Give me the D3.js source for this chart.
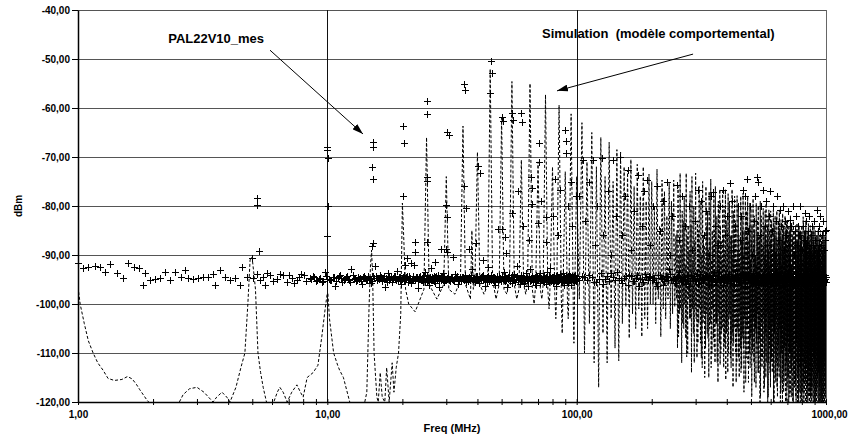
<!DOCTYPE html>
<html>
    <head>
        <style>
            body{
                margin: 0;
                background-color: white;
            }
            text{
                font-family: "Liberation Sans", Arial, sans-serif;
                font-weight: bold;
            }
        </style>
        <script src="https://d3js.org/d3.v7.min.js"></script>
    </head>
    <body>
        <script>
            // axis ticks
            const yTicks = [-40, -50, -60, -70, -80, -90, -100, -110, -120];
            const xTicks = [1,2,3,4,5,6,7,8,9,10,20,30,40,50,60,70,80,90,100,200,300,400,500,600,700,800,900,1000];
            const xLabelTicks = [1, 10, 100, 1000];
            const xGrid = [10, 100, 1000];

            // PAL22V10_mes : measured points [MHz, dBm]
            const measFloor = [[1.0,-91.7],[1.05,-92.6],[1.10,-92.4],[1.17,-92.2],[1.22,-92.4],[1.28,-93.4],[1.34,-91.9],[1.43,-93.6],[1.52,-94.6],[1.59,-91.7],[1.67,-92.4],[1.75,-92.6],[1.83,-96.1],[1.86,-93.6],[1.94,-95.1],[2.03,-94.8],[2.13,-94.6],[2.23,-93.4],[2.34,-95.1],[2.45,-93.4],[2.60,-94.4],[2.69,-93.1],[2.77,-94.6],[2.90,-94.8],[3.04,-94.6],[3.18,-94.4],[3.33,-94.4],[3.49,-93.9],[3.54,-96.1],[3.71,-93.1],[3.89,-94.4],[4.07,-95.0],[4.26,-94.6],[4.46,-96.1],[4.53,-92.4],[4.75,-94.4],[5.05,-94.6],[5.2,-93.8],[5.37,-95.1],[5.5,-94.4],[5.63,-96.1],[5.75,-93.6],[5.90,-94.1],[6.05,-95.3],[6.27,-94.8],[6.45,-93.9],[6.66,-94.1],[6.87,-95.5],[7.0,-94.0],[7.19,-94.6],[7.35,-95.7],[7.55,-95.1],[7.7,-94.5],[7.85,-93.9],[8.03,-94.1],[8.2,-95.4]];
            const measPeaks = [[5.0,-90.7],[5.21,-79.8],[5.21,-78.4],[5.32,-89.2],[10.0,-67.9],[10.0,-68.6],[10.05,-70.2],[10.1,-79.9],[9.98,-86.1],[15.2,-66.9],[15.2,-68.0],[15.1,-72.0],[15.25,-74.5],[15.2,-87.6],[15.1,-88.2],[20.2,-63.6],[20.3,-67.1],[20.2,-78.0],[22.5,-87.3],[22.5,-89.3],[25.2,-58.5],[25.2,-61.2],[25.1,-74.0],[25.1,-74.8],[25.1,-87.3],[30.2,-64.8],[30.8,-65.5],[30.0,-79.8],[30.2,-82.2],[29.8,-88.8],[30.2,-89.3],[35.4,-55.1],[35.8,-56.3],[35.2,-76.0],[35.9,-80.5],[39.3,-87.5],[40.2,-71.8],[40.8,-73.2],[45.3,-50.5],[45.8,-52.9],[44.9,-56.9],[50.4,-61.8],[50.6,-62.6],[50.0,-84.6],[51.5,-86.3],[55.2,-61.0],[55.6,-62.4],[60.0,-61.0],[60.2,-62.8],[65.5,-74.0],[65.9,-76.4],[70.8,-67.1],[70.8,-71.0],[75.0,-82.2],[81.8,-74.5],[85.6,-76.7],[89.8,-64.5],[90.3,-66.7],[90.3,-69.2],[95.0,-75.0]];
            const measScatter = [[20.5,-92.0],[20.8,-90.7],[21.6,-91.7],[27.0,-91.5],[28.5,-88.8],[32.0,-90.5],[37.0,-88.8],[42.0,-91.0],[48.5,-84.6],[52.0,-89.6],[55.0,-81.4],[58.0,-77.0],[61.0,-84.0],[64.5,-87.0],[66.0,-79.5],[70.0,-83.5],[72.0,-79.0],[75.5,-87.3],[80.0,-82.0],[84.0,-86.0],[92.0,-80.0],[96.0,-84.0],[99.0,-78.0]];
            const measCloud = [[106,-70.6],[116,-70.6],[126,-70.3],[140,-70.6],[149,-70],[161,-72.7],[177,-73.7],[191,-74.7],[210,-76],[230,-75],[252,-75.7],[307,-76.7],[352,-77.1],[386,-76.7],[411,-75.4],[465,-76.7],[480,-74.4],[527,-74],[535,-75],[561,-76.7],[656,-80.8],[718,-82.9],[825,-81.5],[917,-80.8],[1000,-84.9],
                [102,-78],[108,-83],[112,-75],[118,-88],[121,-80],[128,-86],[133,-77],[137,-90],[144,-82],[152,-86],[156,-78],[165,-89],[170,-81],[182,-84],[186,-77],[196,-88],[203,-80],[215,-85],[221,-79],[236,-90],[242,-82],[258,-87],[265,-78],[272,-84],[281,-80],[290,-89],[298,-83],[315,-79],[323,-86],[331,-81],[340,-90],[346,-78],[360,-84],[368,-88],[375,-80],[395,-86],[402,-82],[418,-79],[425,-89],[433,-84],[442,-80],[450,-87],[458,-82],[472,-78],[488,-85],[495,-80],[505,-90],[512,-83],[520,-78],[543,-86],[550,-80],[568,-84],[575,-79],[582,-88],[590,-82],[598,-77],[606,-85],[615,-80],[622,-90],[630,-83],[638,-78],[645,-87],[663,-84],[670,-80],[678,-89],[686,-83],[694,-86],[702,-81],[710,-88],[726,-84],[734,-80],[742,-90],[750,-85],[758,-82],[766,-88],[774,-84],[782,-86],[790,-80],[798,-89],[806,-84],[814,-87],[833,-83],[841,-88],[850,-85],[858,-82],[866,-90],[874,-86],[882,-84],[890,-88],[898,-83],[906,-87],[925,-85],[933,-89],[941,-84],[949,-82],[957,-88],[965,-86],[973,-83],[981,-89],[989,-85],[995,-87]];

            // noise floor sweeps (start MHz, step MHz, dBm per step)
            const sweepAStart = 8.5, sweepAStep = 0.25;
            const sweepADbm = [-94.6,-94.2,-95.3,-94.8,-95.6,-93.4,-94.9,-95.1,-94.4,-96.3,
                -94.7,-94.1,-95.5,-94.9,-94.3,-95.2,-92.8,-94.8,-95.4,-94.5,
                -94.6,-96.0,-94.2,-95.0,-94.4,-94.8,-95.7,-94.3,-92.2,-95.2,
                -94.6,-94.0,-95.3,-94.7,-96.6,-94.9,-93.6,-95.0,-94.5,-95.6,
                -94.3,-94.7,-93.2,-95.3,-94.5,-95.9,-94.8,-94.1,-95.1,-94.4,
                -95.5,-94.2,-94.6,-95.8,-94.9,-92.0,-95.2,-94.5,-96.8,-94.9,
                -94.3,-95.0,-94.6,-95.6,-94.2,-93.5,-95.4,-94.8,-96.2,-94.5,
                -92.7,-95.1,-94.6,-94.2,-95.7,-94.4,-95.2,-94.1,-96.5,-94.7,
                -95.0,-94.4,-93.7,-95.5,-94.6,-95.1,-94.8];
            const sweepEStart = 8.625, sweepEStep = 0.25;
            const sweepEDbm = [-94.9,-94.4,-95.1,-94.6,-95.4,-94.2,-94.8,-95.0,-94.5,-95.3,
                -94.3,-94.7,-95.2,-94.5,-94.9,-95.5,-94.1,-94.6,-95.0,-94.8,
                -95.3,-94.4,-94.7,-95.1,-94.2,-94.9,-95.4,-94.6,-94.3,-95.0,
                -94.8,-94.5,-95.2,-94.3,-94.7,-95.6,-94.4,-94.9,-95.1,-94.6,
                -94.2,-95.0,-94.8,-94.5,-95.3,-94.7,-94.4,-95.2,-94.9,-94.3,
                -95.0,-94.6,-95.4,-94.8,-94.2,-95.1,-94.7,-94.5,-95.3,-94.4,
                -94.9,-95.0,-94.3,-94.8,-95.5,-94.6,-94.1,-95.2,-94.7,-94.9,
                -95.1,-94.4,-94.8,-95.3,-94.5,-94.2,-95.0,-94.7,-95.4,-94.6,
                -94.3,-94.9,-95.2,-94.5,-94.8,-95.0];
            const sweepBStart = 30, sweepBStep = 0.5;
            const sweepBDbm = [-94.8,-94.3,-95.4,-94.6,-95.0,-93.8,-94.7,-95.9,-94.5,-95.3,
                -94.5,-94.0,-95.6,-94.9,-94.4,-95.2,-92.9,-94.6,-95.5,-94.3,
                -94.2,-95.8,-94.6,-95.1,-94.1,-94.8,-96.3,-94.5,-92.5,-95.4,
                -94.7,-94.0,-95.0,-94.5,-96.1,-94.9,-94.2,-95.6,-94.6,-95.2,
                -94.3,-94.8,-93.4,-95.3,-94.6,-96.5,-94.4,-94.1,-95.0,-94.7,
                -95.7,-94.5,-93.9,-95.5,-94.9,-92.2,-95.1,-94.6,-96.0,-94.7,
                -94.1,-95.3,-94.5,-95.8,-94.8,-93.6,-95.0,-94.6,-96.4,-94.4,
                -92.8,-95.2,-94.7,-94.3,-95.6,-94.6,-95.4,-94.0,-96.2,-94.9,
                -95.1,-94.3,-93.7,-95.7,-94.6,-95.0,-94.5,-94.2,-95.5,-94.8,
                -96.0,-94.4,-93.5,-95.3,-94.9,-95.6,-94.4,-92.6,-95.0,-94.6,
                -95.8,-94.5,-94.0,-95.2,-94.7,-96.3,-94.3,-94.1,-95.4,-94.6,
                -95.1,-94.5,-93.8,-95.6,-94.9,-95.3,-94.4,-93.6,-96.1,-94.8,
                -95.0,-94.6,-94.1,-95.5,-94.3,-95.7,-94.7,-93.9,-95.2,-94.5,
                -96.2,-94.6,-94.2,-95.0,-94.5,-95.6,-94.3,-94.0,-95.3,-94.9,
                -94.6];
            const sweepFStart = 30.25, sweepFStep = 0.5;
            const sweepFDbm = [-94.7,-95.1,-94.4,-94.9,-95.3,-94.6,-94.2,-95.0,-94.8,-94.5,
                -95.2,-94.3,-94.7,-95.4,-94.9,-94.1,-95.0,-94.6,-95.3,-94.4,
                -94.8,-95.1,-94.5,-94.2,-95.2,-94.7,-94.9,-95.5,-94.3,-94.6,
                -95.0,-94.8,-94.4,-95.3,-94.6,-94.9,-95.1,-94.2,-94.7,-95.4,
                -94.5,-94.8,-95.0,-94.3,-95.2,-94.6,-94.9,-94.4,-95.3,-94.7,
                -94.1,-95.0,-94.8,-95.5,-94.5,-94.3,-95.1,-94.7,-94.9,-95.2,
                -94.6,-94.4,-95.0,-94.8,-95.3,-94.2,-94.7,-95.1,-94.5,-94.9,
                -95.4,-94.6,-94.3,-95.0,-94.8,-94.5,-95.2,-94.7,-94.4,-95.1,
                -94.9,-94.2,-95.3,-94.6,-94.8,-95.0,-94.5,-94.3,-95.2,-94.7,
                -95.5,-94.4,-94.9,-95.1,-94.6,-94.2,-95.0,-94.8,-95.3,-94.5,
                -94.7,-95.2,-94.4,-94.9,-95.0,-94.3,-94.8,-95.4,-94.6,-94.5,
                -95.1,-94.7,-94.2,-95.3,-94.9,-94.6,-95.0,-94.4,-94.8,-95.2,
                -94.5,-94.3,-95.1,-94.7,-95.4,-94.6,-94.9,-94.2,-95.0,-94.8,
                -95.3,-94.4,-94.7,-95.1,-94.5,-94.9,-95.2,-94.3,-94.6,-95.0];
            const sweepCStart = 100, sweepCStep = 5;
            const sweepCDbm = [-94.6,-94.2,-95.2,-94.5,-95.6,-93.7,-94.9,-95.3,-94.5,-93.4,-95.0,-94.7,-96.1,-94.3,-95.3,-94.0,-94.8,-95.5,-94.4,-94.2,
                -95.1,-94.6,-96.3,-94.0,-94.9,-95.4,-94.4,-92.9,-95.2,-94.6,-95.7,-94.2,-94.7,-95.0,-94.5,-96.0,-94.1,-95.3,-94.7,-94.3,
                -95.4,-93.8,-94.8,-95.8,-94.4,-95.1,-94.0,-94.6,-96.2,-94.6,-95.0,-93.5,-95.5,-94.9,-94.3,-95.6,-94.2,-94.7,-95.2,-94.5,
                -95.7,-94.3,-93.9,-95.3,-94.7,-96.0,-94.4,-95.1,-94.1,-94.9,-95.6,-94.6,-93.6,-95.2,-94.6,-96.3,-94.3,-95.0,-94.0,-94.8,
                -95.5,-94.5,-95.8,-94.2,-94.7,-95.2,-94.3,-96.1,-93.9,-95.4,-94.6,-95.0,-94.1,-94.9,-95.7,-94.4,-95.3,-93.8,-94.6,-96.0,
                -94.3,-95.6,-94.2,-94.8,-95.2,-94.6,-96.2,-94.0,-95.0,-94.6,-95.8,-94.3,-93.6,-95.4,-94.7,-95.1,-94.1,-96.0,-94.5,-95.5,
                -94.4,-93.9,-95.3,-94.9,-96.1,-94.3,-95.0,-94.2,-94.6,-95.7,-94.5,-95.2,-93.8,-94.8,-96.3,-94.2,-95.4,-94.1,-94.7,-95.1,
                -94.6,-95.9,-94.0,-94.4,-95.6,-94.8,-93.7,-95.3,-94.3,-96.0,-94.6,-95.0,-94.2,-94.5,-95.7,-94.9,-93.9,-95.2,-94.5,-95.8,
                -94.3,-95.4,-94.1,-94.7,-96.2,-94.5,-95.1,-93.8,-94.9,-95.6,-94.4,-95.0,-94.2,-94.6,-96.1,-94.5,-95.3,-94.0,-94.8,-95.5,
                -94.4];
            const sweepDStart = 102.5, sweepDStep = 5;
            const sweepDDbm = [-95.0,-94.5,-94.0,-95.6,-94.8,-96.0,-94.3,-93.6,-95.2,-94.6,
                -95.8,-94.2,-94.1,-95.3,-94.6,-96.4,-94.9,-93.9,-95.1,-94.4,
                -94.7,-95.5,-94.1,-94.6,-96.1,-94.3,-95.2,-93.8,-94.9,-95.7,
                -94.5,-93.4,-95.4,-94.8,-95.0,-94.3,-96.3,-94.0,-94.6,-95.3,
                -94.6,-95.9,-93.9,-94.7,-95.1,-94.4,-94.2,-96.0,-94.5,-95.4,
                -94.1,-94.9,-95.6,-94.3,-93.5,-95.2,-94.6,-96.2,-94.5,-95.0,
                -94.8,-93.8,-95.7,-94.3,-94.9,-96.1,-94.0,-95.3,-94.5,-95.0,
                -94.4,-95.8,-93.9,-94.7,-95.5,-94.2,-96.4,-94.1,-94.8,-95.1,
                -94.6,-93.7,-95.3,-94.9,-96.0,-94.4,-95.6,-94.1,-94.6,-95.2,
                -94.3,-95.9,-93.8,-94.6,-95.0,-94.7,-96.3,-93.9,-95.4,-94.5,
                -94.9,-95.7,-94.2,-94.3,-95.5,-94.6,-93.5,-95.1,-94.8,-96.1,
                -94.5,-95.2,-94.0,-94.6,-95.8,-94.3,-95.0,-93.7,-94.9,-96.2,
                -94.5,-95.6,-94.1,-94.7,-95.3,-94.2,-96.0,-93.9,-94.8,-95.4,
                -94.4,-95.1,-93.8,-94.6,-95.9,-94.9,-94.2,-95.2,-94.5,-96.3,
                -94.2,-95.5,-94.0,-94.7,-95.0,-94.4,-96.1,-93.7,-94.9,-95.6,
                -94.6,-95.3,-94.1,-94.3,-95.7,-94.8,-93.9,-95.0,-94.6,-96.0,
                -94.3,-95.4,-94.2,-94.7,-95.1,-94.5,-96.4,-93.8,-94.8,-95.8,
                -94.2,-95.2,-94.0,-94.6,-95.9,-94.4,-95.0,-94.1,-94.9,-95.5];

            // Simulation (modele comportemental) : dashed curve [MHz, dBm]
            const simLow = [[1.0,-96.5],[1.02,-100],[1.06,-104],[1.1,-107.5],[1.15,-110],[1.2,-112],[1.26,-113.5],[1.32,-115.2],[1.4,-115.6],[1.5,-115.4],[1.58,-114.8],[1.65,-115.3],[1.72,-116.5],[1.77,-117.5],[1.89,-119.6],[2.0,-121],[2.3,-123],[2.55,-120],[2.64,-118.5],[2.8,-117.3],[3.0,-117],[3.2,-118],[3.48,-120],[3.6,-119],[3.78,-118],[3.95,-119],[4.07,-120],[4.3,-117],[4.5,-113],[4.67,-110],[4.8,-100],[4.9,-91],[4.99,-90.4],[5.08,-94],[5.15,-97],[5.27,-110],[5.4,-114],[5.53,-117],[5.7,-120],[6.0,-121],[6.3,-118],[6.45,-117],[6.65,-118],[6.9,-120],[7.2,-118],[7.55,-116.5],[7.8,-118],[8.0,-119],[8.3,-115],[8.77,-114],[9.17,-112.5],[9.5,-106.7],[9.8,-101],[9.98,-98],[10.05,-97.8],[10.2,-103],[10.6,-110],[11.0,-112.5],[11.2,-113.5],[11.6,-115],[12.3,-120],[13.0,-123],[14.0,-121],[14.4,-118],[14.7,-100.6],[14.9,-92],[15.05,-89],[15.2,-95],[15.4,-110],[15.8,-119],[16.0,-120],[16.3,-114],[16.6,-119],[17.0,-120],[17.3,-113],[17.7,-120],[18.2,-112],[18.5,-118],[18.9,-112.9],[19.3,-110],[19.7,-102],[20.0,-79.4],[20.2,-85],[20.6,-97],[21.2,-100],[22.0,-101]];
            const simMid = [[22.5,-101.6],[24.4,-97],[25.0,-66],[25.6,-96],[27.5,-99],[29.3,-96],[30.0,-74],[30.7,-97],[32.5,-98],[34.2,-95],[35.0,-63.7],[35.8,-96],[37.5,-99],[38.0,-85],[38.5,-97],[39.1,-95],[40.0,-69],[40.9,-96],[42.5,-98],[44.0,-96],[45.0,-52],[46.0,-95],[47.5,-99],[48.9,-96],[50.0,-62],[51.1,-97],[52.5,-98],[53.8,-95],[55.0,-54.6],[56.2,-96],[57.5,-99],[58.7,-97],[60.0,-70.6],[61.3,-96],[62.5,-98],[63.6,-95],[65.0,-55],[66.4,-97],[67.5,-100],[68.5,-96],[70.0,-71],[71.5,-97],[72.5,-99],[73.4,-96],[75.0,-57.3],[76.6,-97],[77.5,-101],[78.3,-96],[80.0,-72],[81.7,-98],[82.5,-103],[83.2,-97],[85.0,-59.4],[86.8,-99],[87.5,-106],[88.1,-98],[90.0,-73],[91.9,-100],[92.5,-103],[93.0,-99],[95.0,-61.2],[97.0,-102],[97.5,-108],[98.0,-100]];
            // harmonics of 5 MHz from 100 MHz: peak at each harmonic, dip after it
            const harmStart = 100;
            const harmStep = 5;
            const simPeakDbm = [-74,-63,-71,-65,-72,-66,-74,-67,-75,-68.5,-69,-72,-72.7,-70.5,-76,-71.5,-78,-72,-79,-73.5,
                -75,-80,-72.5,-84,-74.7,-77,-82,-75.4,-79,-74.7,-86,-76,-73.3,-81,-78,-73.3,-84,-77,-74,-80,
                -73.3,-83,-76,-79,-75,-88,-76,-81,-77,-74.5,-85,-78,-76,-82,-79,-76.6,-87,-77,-80,-76.6,
                -83,-77.5,-79,-86,-76.6,-81,-78,-84,-77.9,-80,-89,-78,-82,-77.4,-85,-79,-81,-78,-87,-79.4,
                -80,-84,-78.5,-82,-90,-79.4,-83,-80,-86,-79,-82,-88,-80.5,-84,-81,-79.5,-87,-82,-80.8,-85,
                -81,-83,-89,-80.8,-84,-82,-86,-81,-91,-83,-80.8,-85,-82.8,-87,-81.5,-84,-90,-82,-86,-83,
                -82.8,-88,-84,-85,-82,-92,-84,-86,-83,-89,-85,-84,-87,-83.5,-90,-85,-84,-88,-85,-86,
                -84,-91,-82.2,-86,-85,-89,-83,-87,-85,-93,-83.6,-86,-88,-84,-90,-86,-85,-89,-87,-84,
                -88,-85,-92,-86,-87,-89,-85,-90,-86,-88,-85,-91,-87,-86,-89,-85,-88,-90,-86,-87,-85];
            const simDipDbm = [-99,-110,-104,-112,-117,-106,-112,-103,-109,-111.6,-104,-100.6,-107,-102,-105,-101,-106.7,-103,-105,-100,
                -100,-104,-99,-106.7,-101,-103,-99,-105,-102,-100.6,-99,-106.7,-101,-104,-100,-110.8,-99,-103,-101,-112,
                -103,-108,-101,-111,-104,-115,-102,-107,-105,-113,-101,-109,-104,-112,-102,-112.4,-106,-103,-108,-115.5,
                -104,-110,-102,-113,-106,-108,-103,-116,-105,-111,-102,-114,-107,-109,-103,-116,-105,-112,-101,-113,
                -106,-110,-103,-116,-105,-108,-102,-114,-107,-119,-104,-111,-103,-117,-106,-112,-102,-119,-105,-114,
                -107,-112,-104,-120,-106,-115,-103,-117,-108,-113,-105,-120,-107,-116,-104,-118,-109,-114,-105,-121,
                -108,-115,-106,-119,-110,-114,-107,-122,-109,-117,-111,-119,-108,-115,-112,-121,-109,-118,-113,-120,
                -110,-118,-108,-122,-112,-116,-109,-120,-111,-121,-113,-118,-110,-119,-112,-122,-109,-117,-111,-120,
                -112,-119,-110,-121,-113,-117,-111,-120,-114,-122,-112,-119,-110,-121,-113,-120,-111,-121,-112,-119];
            // second ripple between harmonics, from 250 MHz
            const ripple2Start = 250;
            const simPeak2Dbm = [-85,-90,-88,-83,-92,-86,-89,-84,-91,-87,-93,-85,-88,-90,-86,-92,-84,-89,-87,-91,
                -88,-85,-93,-87,-90,-84,-91,-86,-89,-92,-85,-88,-94,-86,-90,-87,-83,-91,-89,-86,
                -92,-87,-85,-90,-88,-93,-86,-89,-84,-91,-87,-94,-88,-85,-90,-92,-86,-89,-87,-91,
                -85,-93,-88,-90,-86,-91,-84,-89,-92,-87,-90,-85,-94,-88,-86,-91,-89,-87,-93,-85,
                -90,-88,-92,-86,-89,-94,-87,-85,-91,-88,-93,-86,-90,-89,-84,-92,-87,-91,-88,-95,
                -86,-90,-93,-87,-89,-85,-92,-88,-91,-86,-94,-89,-87,-90,-92,-85,-88,-93,-86,-91,
                -89,-87,-94,-88,-86,-92,-90,-85,-93,-88,-91,-87,-89,-95,-86,-90,-88,-92,-87,-91,
                -88,-93,-86,-90,-89,-92,-87,-91,-94,-88];
            const simDip2Dbm = [-109,-102,-112,-105,-107,-110,-103,-114,-106,-101,-111,-104,-108,-113,-102,-109,-106,-115,-104,-110,
                -107,-112,-104,-116,-108,-110,-105,-113,-109,-106,-114,-103,-111,-108,-117,-105,-110,-112,-106,-115,
                -109,-113,-106,-118,-108,-111,-105,-116,-110,-107,-119,-109,-112,-106,-117,-110,-114,-108,-120,-111,
                -113,-108,-118,-110,-115,-107,-120,-112,-109,-117,-111,-114,-108,-121,-110,-116,-112,-119,-109,-115,
                -111,-118,-110,-121,-113,-116,-109,-120,-112,-117,-115,-122,-110,-118,-113,-119,-111,-121,-114,-117,
                -116,-120,-112,-122,-114,-118,-113,-121,-115,-119,-112,-122,-116,-118,-114,-121,-113,-120,-117,-119,
                -115,-121,-113,-122,-117,-119,-114,-121,-116,-120,-113,-122,-118,-119,-115,-121,-114,-120,-117,-122,
                -116,-121,-114,-120,-118,-122,-115,-119,-117,-121];

            const notes = [
                {text: "PAL22V10_mes", f: 2.3, v: -46.7, from: [5.89, -48.2], to: [13.9, -65.3]},
                {text: "Simulation\u00a0 (modèle comportemental)", f: 72.6, v: -45.8, from: [293, -49], to: [83.4, -56.5]}
            ];

            const w = 849;
            const h = 434;
            const plotLeft = 78, plotRight = 826, plotTop = 10, plotBottom = 402;

            const x = d3.scaleLog().domain([1, 1000]).range([plotLeft, plotRight]);
            const y = d3.scaleLinear().domain([-120, -40]).range([plotBottom, plotTop]);
            const comma = d => d.toFixed(2).replace(".", ",");
            const sweep = (start, step, values) => values.map((v, i) => [start + i * step, v]);

            const meas = measFloor.concat(
                sweep(sweepAStart, sweepAStep, sweepADbm),
                sweep(sweepEStart, sweepEStep, sweepEDbm),
                sweep(sweepBStart, sweepBStep, sweepBDbm),
                sweep(sweepFStart, sweepFStep, sweepFDbm),
                sweep(sweepCStart, sweepCStep, sweepCDbm),
                sweep(sweepDStart, sweepDStep, sweepDDbm),
                measScatter, measPeaks, measCloud);

            const sim = simLow.concat(simMid);
            const ripple2Offset = (ripple2Start - harmStart) / harmStep;
            simPeakDbm.forEach((v, i) => {
                const f = harmStart + i * harmStep;
                sim.push([f, v]);
                if (i >= simDipDbm.length) return;
                const j = i - ripple2Offset;
                if (j >= 0 && j < simPeak2Dbm.length) {
                    sim.push([f + harmStep / 4, simDipDbm[i]]);
                    sim.push([f + harmStep / 2, simPeak2Dbm[j]]);
                    sim.push([f + harmStep * 3 / 4, simDip2Dbm[j]]);
                } else {
                    sim.push([f + harmStep / 2, simDipDbm[i]]);
                }
            });

            const svg = d3.select("body")
                        .append("svg")
                        .attr("width", w)
                        .attr("height", h);

            const defs = svg.append("defs");
            defs.append("clipPath").attr("id", "plot")
                .append("rect")
                .attr("x", plotLeft).attr("y", plotTop)
                .attr("width", plotRight - plotLeft).attr("height", plotBottom - plotTop);
            defs.append("marker")
                .attr("id", "arrow")
                .attr("viewBox", "0 0 11 7")
                .attr("refX", 11).attr("refY", 3.5)
                .attr("markerWidth", 11).attr("markerHeight", 7)
                .attr("markerUnits", "userSpaceOnUse")
                .attr("orient", "auto")
                .append("path")
                .attr("d", "M0,0L11,3.5L0,7z")
                .attr("fill", "#000");

            // grid
            svg.append("g").selectAll("line")
                .data(yTicks)
                .enter()
                .append("line")
                .attr("x1", plotLeft).attr("x2", plotRight)
                .attr("y1", d => Math.round(y(d)) + 0.5).attr("y2", d => Math.round(y(d)) + 0.5)
                .attr("stroke", "#555");
            svg.append("g").selectAll("line")
                .data(xGrid)
                .enter()
                .append("line")
                .attr("x1", d => Math.round(x(d)) + 0.5).attr("x2", d => Math.round(x(d)) + 0.5)
                .attr("y1", plotTop).attr("y2", plotBottom)
                .attr("stroke", d => d == 1000 ? "#666" : "#111");

            // measured points
            svg.append("g").selectAll("path")
                .data(meas)
                .enter()
                .append("path")
                .attr("d", "M-3.5,0H3.5M0,-3.5V3.5")
                .attr("transform", d => `translate(${Math.round(x(d[0])) + 0.5},${Math.round(y(d[1])) + 0.5})`)
                .attr("stroke", "#000")
                .attr("fill", "none");

            // simulation
            const line = d3.line().x(d => x(d[0])).y(d => y(d[1]));
            svg.append("path")
                .datum(sim)
                .attr("d", line)
                .attr("clip-path", "url(#plot)")
                .attr("fill", "none")
                .attr("stroke", "#000")
                .attr("stroke-width", 1)
                .attr("stroke-dasharray", "3,2");

            // axes
            const gy = svg.append("g")
                .attr("transform", `translate(${plotLeft},0)`)
                .call(d3.axisLeft(y).tickValues(yTicks).tickSize(6).tickSizeOuter(0).tickPadding(2).tickFormat(comma));
            const gx = svg.append("g")
                .attr("transform", `translate(0,${plotBottom})`)
                .call(d3.axisBottom(x).tickValues(xTicks).tickSize(3).tickSizeOuter(0).tickPadding(6)
                    .tickFormat(d => xLabelTicks.includes(d) ? comma(d) : ""));
            gx.selectAll(".tick line").attr("y1", -3);
            gx.selectAll(".tick text").filter(d => d == 1000).attr("dx", 3);
            [gx, gy].forEach(g => {
                g.attr("font-size", 10);
                g.select(".domain").attr("stroke", "#000").attr("stroke-width", 1.5);
                g.selectAll(".tick line").attr("stroke", "#000");
            });

            svg.append("text")
                .attr("x", (plotLeft + plotRight) / 2)
                .attr("y", 431.5)
                .attr("text-anchor", "middle")
                .attr("font-size", 11)
                .text("Freq (MHz)");
            svg.append("text")
                .attr("transform", `translate(18,${(plotTop + plotBottom) / 2}) rotate(-90)`)
                .attr("text-anchor", "middle")
                .attr("dy", "0.35em")
                .attr("font-size", 10)
                .text("dBm");

            // annotations
            svg.append("g").selectAll("line")
                .data(notes)
                .enter()
                .append("line")
                .attr("x1", d => x(d.from[0])).attr("y1", d => y(d.from[1]))
                .attr("x2", d => x(d.to[0])).attr("y2", d => y(d.to[1]))
                .attr("stroke", "#000")
                .attr("marker-end", "url(#arrow)");
            svg.append("g").selectAll("text")
                .data(notes)
                .enter()
                .append("text")
                .attr("x", d => x(d.f))
                .attr("y", d => y(d.v))
                .attr("font-size", 13)
                .text(d => d.text);
        </script>
    </body>
</html>
